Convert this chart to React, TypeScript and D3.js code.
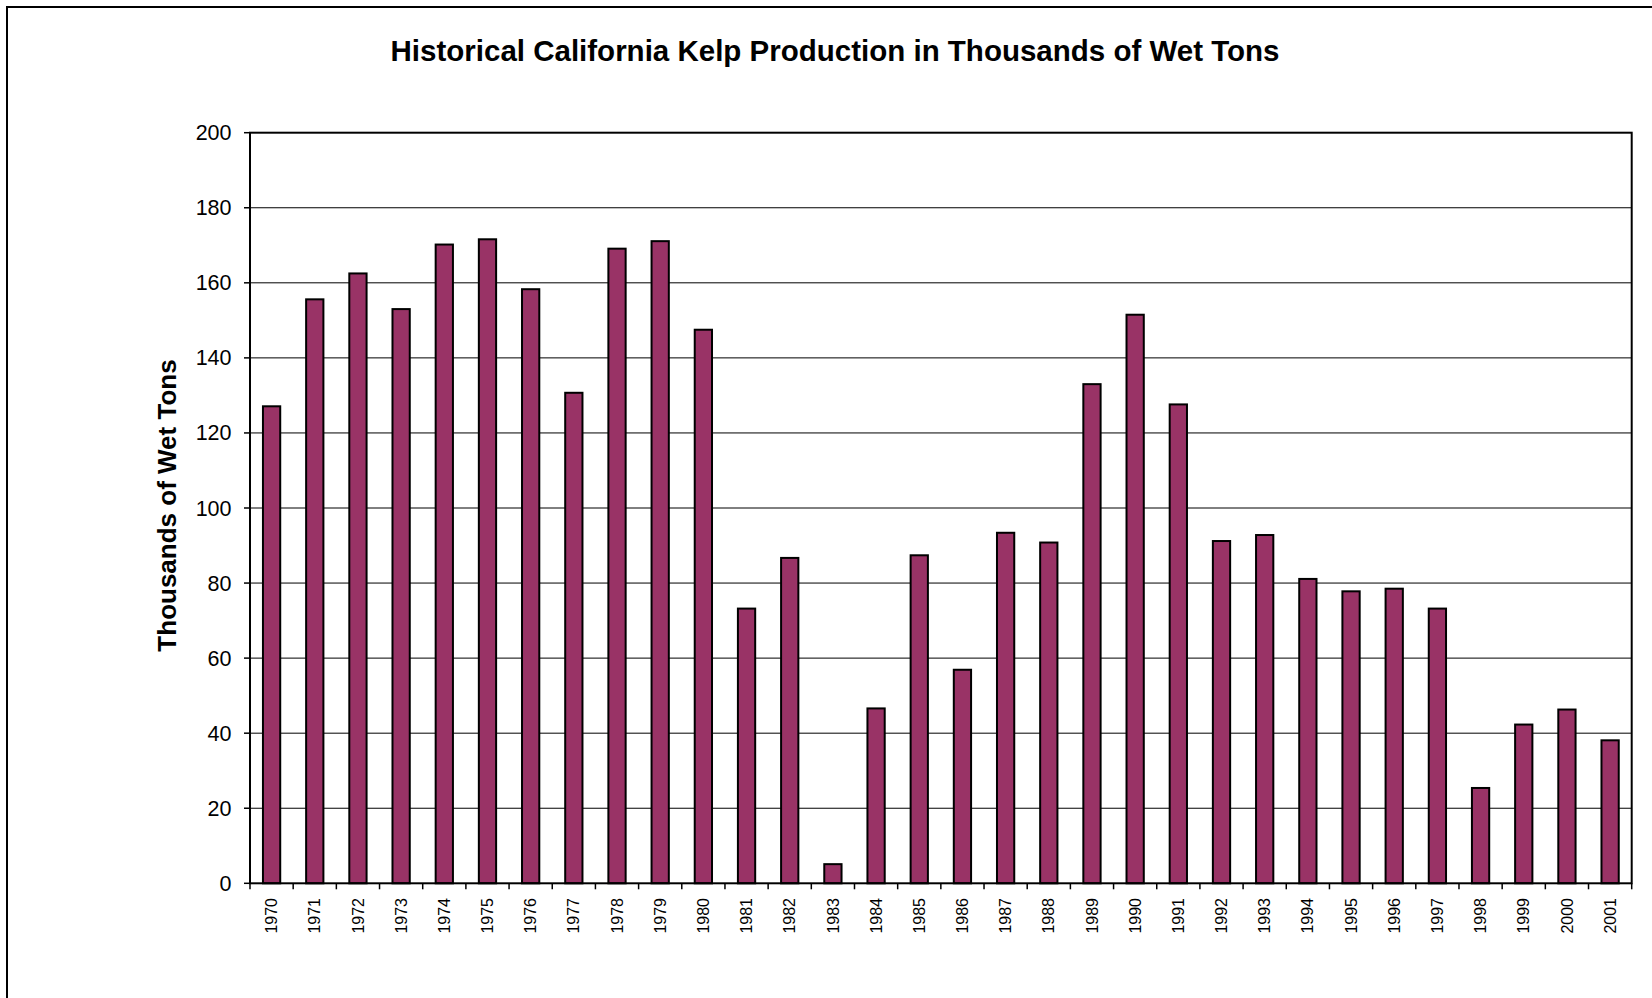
import React from "react";
import * as d3 from "d3";

const years = [
  "1970", "1971", "1972", "1973", "1974", "1975", "1976", "1977", "1978", "1979",
  "1980", "1981", "1982", "1983", "1984", "1985", "1986", "1987", "1988", "1989",
  "1990", "1991", "1992", "1993", "1994", "1995", "1996", "1997", "1998", "1999",
  "2000", "2001",
];
const production = [
  127.1, 155.6, 162.5, 153.0, 170.2, 171.6, 158.3, 130.7, 169.1, 171.1,
  147.5, 73.2, 86.7, 5.1, 46.6, 87.4, 56.9, 93.4, 90.8, 133.0,
  151.5, 127.6, 91.2, 92.8, 81.1, 77.8, 78.5, 73.2, 25.4, 42.3,
  46.3, 38.1,
];
const yTicks = [0, 20, 40, 60, 80, 100, 120, 140, 160, 180, 200];
const title = "Historical California Kelp Production in Thousands of Wet Tons";
const yTitle = "Thousands of Wet Tons";

const W = 1652;
const H = 998;
const left = 250;
const right = 1631.7;
const top = 132.7;
const bottom = 883.3;
const FONT = "Arial, 'Liberation Sans', Helvetica, sans-serif";

export default function App() {
  const x = d3.scaleBand<string>().domain(years).range([left, right]).paddingInner(0).paddingOuter(0);
  const y = d3.scaleLinear().domain([0, 200]).range([bottom, top]);
  const bw = x.bandwidth() / 2.5;
  const boundaries = years.map((yr) => x(yr) as number).concat([right]);

  return (
    <svg
      width={W}
      height={H}
      style={{ position: "absolute", left: 0, top: 0, background: "#fff" }}
      fontFamily={FONT}
    >
      <rect x={0} y={0} width={W} height={H} fill="#fff" />
      <rect x={7} y={7} width={W + 20} height={H + 20} fill="none" stroke="#000" strokeWidth={2} />
      <text x={835} y={60.5} textAnchor="middle" fontSize={29.5} fontWeight="bold" fill="#000">
        {title}
      </text>
      {yTicks.slice(1, -1).map((t) => (
        <line key={"g" + t} x1={left} x2={right} y1={y(t)} y2={y(t)} stroke="#000" strokeWidth={1} />
      ))}
      {production.map((v, i) => {
        const cx = (x(years[i]) as number) + x.bandwidth() / 2;
        return (
          <rect
            key={years[i]}
            x={cx - bw / 2}
            y={y(v)}
            width={bw}
            height={y(0) - y(v)}
            fill="#993366"
            stroke="#000"
            strokeWidth={2}
          />
        );
      })}
      <rect x={left} y={top} width={right - left} height={bottom - top} fill="none" stroke="#000" strokeWidth={2} />
      {yTicks.map((t) => (
        <g key={"y" + t}>
          <line x1={left - 6} x2={left} y1={y(t)} y2={y(t)} stroke="#000" strokeWidth={1.5} />
          <text x={231.5} y={y(t)} dy="0.35em" textAnchor="end" fontSize={21.5} fill="#000">
            {t}
          </text>
        </g>
      ))}
      {boundaries.map((bx, i) => (
        <line key={"xt" + i} x1={bx} x2={bx} y1={bottom} y2={bottom + 6} stroke="#000" strokeWidth={1.5} />
      ))}
      {years.map((yr) => {
        const cx = (x(yr) as number) + x.bandwidth() / 2;
        return (
          <text
            key={"xl" + yr}
            transform={`translate(${cx},898) rotate(-90)`}
            textAnchor="end"
            dy="0.35em"
            fontSize={16}
            fill="#000"
          >
            {yr}
          </text>
        );
      })}
      <text
        transform={`translate(167,505.5) rotate(-90)`}
        textAnchor="middle"
        dy="0.35em"
        fontSize={26}
        fontWeight="bold"
        fill="#000"
      >
        {yTitle}
      </text>
    </svg>
  );
}
